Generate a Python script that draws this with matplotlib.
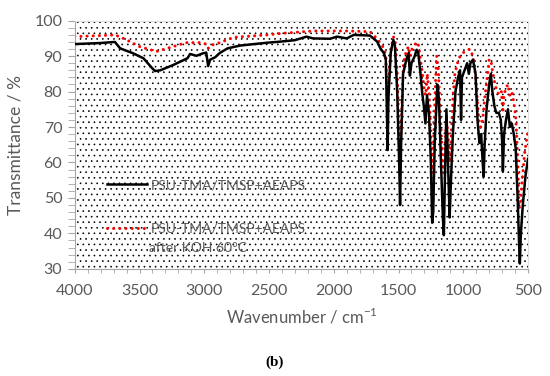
import matplotlib
matplotlib.use('Agg')
import matplotlib.pyplot as plt
from matplotlib.patches import Rectangle
from matplotlib.ticker import MultipleLocator

plt.rcParams['font.family'] = ['Lato', 'DejaVu Sans']
plt.rcParams['hatch.linewidth'] = 0.45
plt.rcParams['hatch.color'] = '#404040'

# PSU-TMA/TMSP+AEAPS
wn_before = [4000, 3800, 3690, 3650, 3550, 3470, 3400, 3380, 3340, 3240, 3130, 3110, 3060,
             3010, 2985, 2970, 2955, 2915, 2880, 2820, 2720, 2510, 2410, 2300, 2210, 2160,
             2030, 1975, 1900, 1845, 1720, 1665, 1640, 1612, 1598, 1590, 1584, 1578, 1560,
             1540, 1528, 1510, 1495, 1488, 1480, 1465, 1440, 1422, 1412, 1400, 1375, 1360,
             1348, 1330, 1318, 1305, 1292, 1280, 1265, 1250, 1240, 1232, 1220, 1200, 1188,
             1172, 1158, 1150, 1142, 1130, 1118, 1105, 1095, 1080, 1060, 1040, 1025, 1017,
             1010, 990, 970, 957, 945, 925, 905, 890, 875, 862, 850, 842, 835, 820, 800,
             787, 775, 760, 745, 725, 710, 700, 694, 685, 670, 655, 640, 625, 610, 595,
             580, 568, 563, 555, 540, 520, 500]
t_before = [93.4, 93.7, 94.0, 92.2, 90.8, 89.4, 86.5, 85.8, 86.0, 87.5, 89.4, 90.6, 90.1,
            90.8, 91.0, 87.2, 89.0, 89.7, 90.9, 92.2, 93.0, 93.8, 94.1, 94.5, 95.5, 95.0,
            94.9, 95.5, 95.0, 96.0, 95.8, 94.1, 92.2, 90.8, 89.0, 75.0, 63.5, 78.0, 91.0,
            94.6, 93.0, 80.0, 60.0, 48.0, 65.0, 85.0, 89.0, 90.9, 84.5, 88.0, 90.0, 91.8,
            91.0, 85.0, 80.0, 76.0, 71.0, 79.0, 74.0, 60.0, 43.0, 46.0, 66.0, 82.0, 78.0,
            60.0, 45.0, 39.5, 55.0, 75.0, 60.0, 44.5, 55.0, 68.0, 80.0, 84.0, 86.0, 72.0,
            84.0, 86.0, 88.0, 85.0, 88.0, 89.0, 85.0, 72.0, 65.5, 68.0, 60.0, 56.0, 65.0,
            75.0, 82.0, 85.0, 80.0, 76.0, 74.0, 74.0, 72.0, 66.0, 57.5, 68.0, 72.0, 75.0,
            70.0, 71.0, 68.0, 64.0, 50.0, 36.0, 31.5, 40.0, 48.0, 56.0, 61.0]

# after KOH 60°C
wn_after = [4000, 3800, 3690, 3600, 3500, 3370, 3240, 3140, 3030, 2985, 2970, 2955, 2880,
            2775, 2510, 2410, 2160, 1900, 1720, 1665, 1612, 1598, 1590, 1584, 1578, 1560,
            1538, 1525, 1510, 1497, 1488, 1478, 1462, 1440, 1422, 1410, 1395, 1360, 1345,
            1330, 1315, 1300, 1290, 1278, 1265, 1252, 1242, 1232, 1215, 1205, 1192, 1175,
            1160, 1150, 1140, 1130, 1118, 1105, 1095, 1080, 1065, 1045, 1025, 1000, 975,
            950, 935, 915, 900, 880, 865, 850, 835, 815, 800, 787, 775, 760, 740, 720,
            705, 695, 685, 670, 655, 640, 625, 610, 595, 580, 570, 560, 545, 525, 500]
t_after = [95.5, 95.8, 96.0, 94.6, 92.7, 91.3, 92.7, 93.8, 93.8, 93.4, 92.2, 93.0, 93.8,
           95.3, 96.0, 96.4, 97.1, 97.1, 96.9, 94.9, 92.2, 90.0, 82.0, 76.0, 82.0, 92.0,
           95.4, 94.0, 85.0, 70.0, 62.0, 72.0, 88.0, 91.5, 92.7, 90.0, 92.0, 94.0, 93.0,
           89.0, 85.0, 80.0, 79.0, 85.0, 80.0, 70.0, 57.0, 62.0, 82.0, 90.0, 86.0, 72.0,
           60.0, 57.0, 65.0, 72.0, 68.0, 60.0, 66.0, 78.0, 85.0, 88.0, 90.0, 91.0, 91.5,
           92.0, 91.0, 88.0, 82.0, 72.0, 70.0, 72.0, 78.0, 84.0, 89.0, 89.0, 86.0, 83.0,
           80.0, 79.0, 80.0, 74.0, 79.0, 81.0, 82.0, 79.0, 80.0, 77.0, 73.0, 62.0, 47.0,
           48.0, 55.0, 63.0, 69.0]

grey = '#595959'

fig = plt.figure(figsize=(5.5, 3.76), dpi=100)
ax = fig.add_axes([0.136, 0.285, 0.824, 0.66])

# dotted background of the plot area
ax.add_patch(Rectangle((0, 0), 1, 1, transform=ax.transAxes, fill=False,
                       hatch='...', linewidth=0, zorder=0))

ax.plot(wn_before, t_before, color='black', lw=1.8, solid_joinstyle='round',
        label='PSU-TMA/TMSP+AEAPS', zorder=3)
ax.plot(wn_after, t_after, color='#ff0000', lw=2.2, linestyle=(0, (0.01, 2.0)),
        dash_capstyle='round', label='PSU-TMA/TMSP+AEAPS', zorder=2)

ax.set_xlim(4000, 500)
ax.set_ylim(30, 100)
ax.xaxis.set_major_locator(MultipleLocator(500))
ax.xaxis.set_minor_locator(MultipleLocator(100))
ax.yaxis.set_major_locator(MultipleLocator(10))
ax.yaxis.set_minor_locator(MultipleLocator(2))

for side in ['left', 'bottom']:
    ax.spines[side].set_color('#a6a6a6')
for side in ['top', 'right']:
    ax.spines[side].set_color('#e0e0e0')
ax.tick_params(axis='both', which='both', direction='out', color='#a6a6a6',
               labelcolor=grey, labelsize=11.5)
ax.tick_params(axis='y', which='both', length=5, pad=4)
ax.tick_params(axis='x', which='both', length=3, pad=8)

ax.set_xlabel('Wavenumber / cm$^{\\mathregular{-1}}$', color=grey, fontsize=12, labelpad=6)
ax.set_ylabel('Transmittance / %', color=grey, fontsize=12.5, labelpad=8)

leg = ax.legend(loc='upper left', bbox_to_anchor=(0.055, 0.39), frameon=False,
                fontsize=10, handlelength=2.9, handletextpad=0.3, labelspacing=2.3,
                borderpad=0)
for txt in leg.get_texts():
    txt.set_color(grey)
# second line of the red entry
ax.text(0.163, 0.085, 'after KOH 60°C', transform=ax.transAxes, color=grey,
        fontsize=10, va='center', ha='left')

fig.text(0.5, 0.037, '(b)', ha='center', va='center', fontsize=11,
         fontweight='bold', family='Liberation Serif')

fig.savefig('out.png', dpi=100)
